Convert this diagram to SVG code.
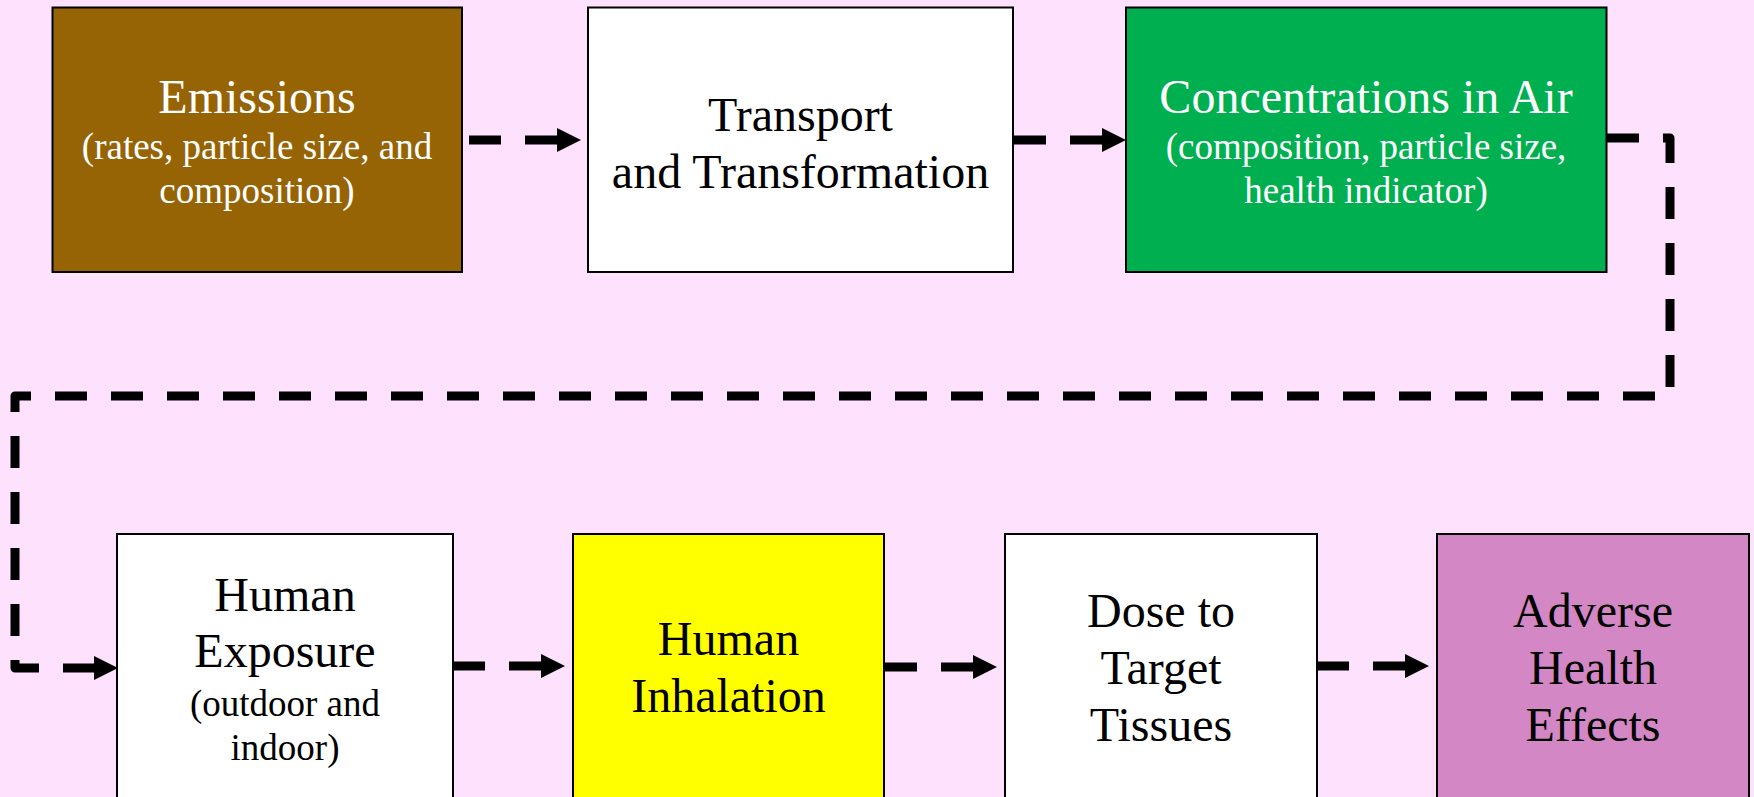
<svg xmlns="http://www.w3.org/2000/svg" width="1754" height="797" viewBox="0 0 1754 797">
<style>
.box{stroke:#000;stroke-width:2}
.t{font-family:"Liberation Serif","Times New Roman",serif;text-anchor:middle}
.big{font-size:48px}
.sub{font-size:37px}
.w{fill:#fff}
.k{fill:#000}
.con{fill:none;stroke:#000;stroke-width:9;stroke-dasharray:32 24;stroke-linejoin:round}
</style>
<defs>
<marker id="arr" markerUnits="userSpaceOnUse" markerWidth="25" markerHeight="26" refX="0" refY="12" orient="auto" overflow="visible">
<path d="M0,0 L24,12 L0,24 z" fill="#000"/>
</marker>
</defs>
<rect x="0" y="0" width="1754" height="797" fill="#FDE1FD"/>
<g id="emissions">
<rect class="box" x="52.5" y="7.5" width="409.5" height="264.5" fill="#966305"/>
<text class="t big w" x="257" y="113">Emissions</text>
<text class="t sub w" x="257" y="159">(rates, particle size, and</text>
<text class="t sub w" x="257" y="203">composition)</text>
</g>
<g id="transport">
<rect class="box" x="588" y="7.5" width="425" height="264.5" fill="#fff"/>
<text class="t big k" x="800.5" y="131">Transport</text>
<text class="t big k" x="800.5" y="188">and Transformation</text>
</g>
<g id="concentrations">
<rect class="box" x="1126" y="7.5" width="480.5" height="264.5" fill="#00AF50"/>
<text class="t big w" x="1366" y="113">Concentrations in Air</text>
<text class="t sub w" x="1366" y="159">(composition, particle size,</text>
<text class="t sub w" x="1366" y="203">health indicator)</text>
</g>
<g id="exposure">
<rect class="box" x="117" y="534" width="336" height="300" fill="#fff"/>
<text class="t big k" x="285" y="611">Human</text>
<text class="t big k" x="285" y="667">Exposure</text>
<text class="t sub k" x="285" y="716">(outdoor and</text>
<text class="t sub k" x="285" y="760">indoor)</text>
</g>
<g id="inhalation">
<rect class="box" x="573" y="534" width="311" height="300" fill="#FFFF00"/>
<text class="t big k" x="728.5" y="655">Human</text>
<text class="t big k" x="728.5" y="712">Inhalation</text>
</g>
<g id="dose">
<rect class="box" x="1005" y="534" width="312" height="300" fill="#fff"/>
<text class="t big k" x="1161" y="627">Dose to</text>
<text class="t big k" x="1161" y="684">Target</text>
<text class="t big k" x="1161" y="741">Tissues</text>
</g>
<g id="adverse">
<rect class="box" x="1437" y="534" width="312" height="300" fill="#D387C4"/>
<text class="t big k" x="1593" y="627">Adverse</text>
<text class="t big k" x="1593" y="684">Health</text>
<text class="t big k" x="1593" y="741">Effects</text>
</g>
<g id="connectors">
<path class="con" d="M469,140 H557" marker-end="url(#arr)"/>
<path class="con" d="M1014,140 H1102" marker-end="url(#arr)"/>
<path class="con" d="M1607,138 H1670 V396 H15 V668 H94" marker-end="url(#arr)"/>
<path class="con" d="M453,666 H541" marker-end="url(#arr)"/>
<path class="con" d="M885,667 H973" marker-end="url(#arr)"/>
<path class="con" d="M1317,666 H1405" marker-end="url(#arr)"/>
</g>
</svg>
